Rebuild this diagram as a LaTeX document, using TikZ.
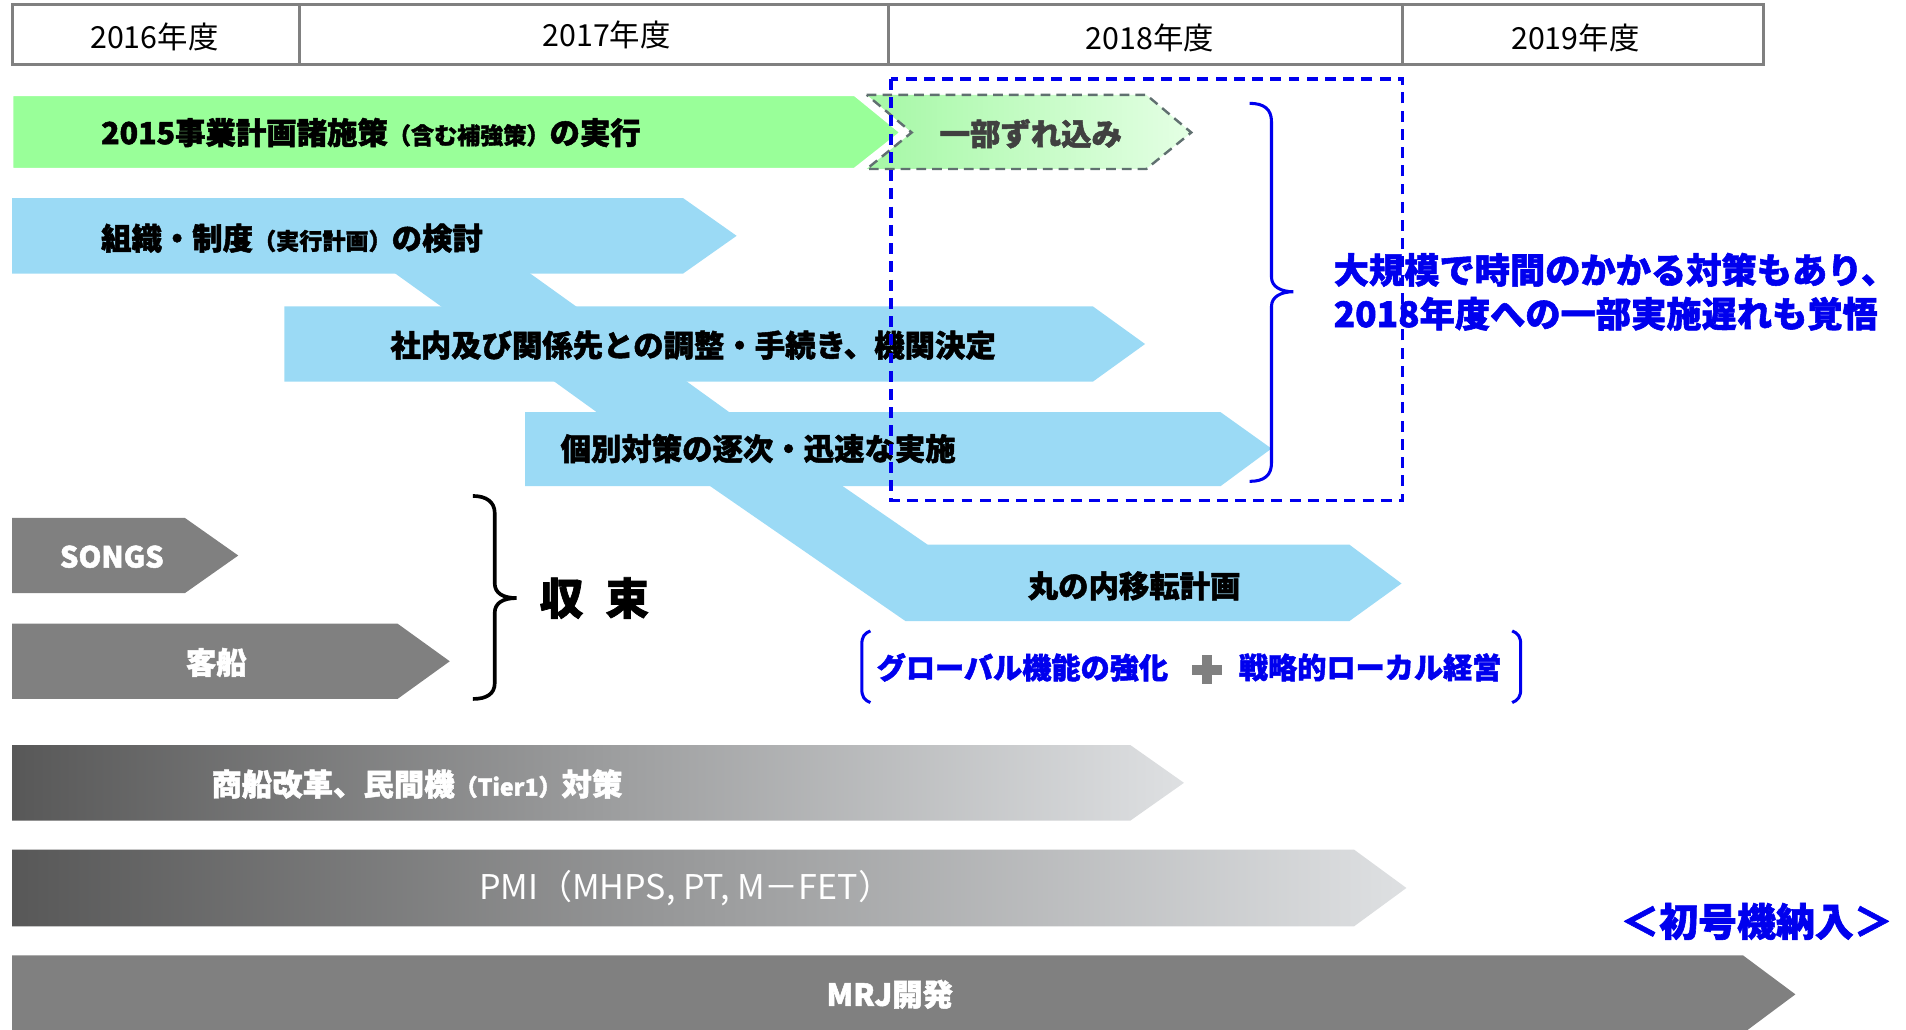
\documentclass[tikz,border=0pt]{standalone}
\usepackage{fontspec}
\setmainfont{Noto Sans CJK JP}[BoldFeatures={FakeBold=1.6}]
\definecolor{lblue}{RGB}{155,218,245}
\definecolor{lgreen}{RGB}{153,255,153}
\definecolor{cgreenA}{RGB}{165,248,165}
\definecolor{cgreenB}{RGB}{228,255,228}
\definecolor{mgray}{RGB}{128,128,128}
\definecolor{dashgray}{RGB}{96,112,112}
\definecolor{dtext}{RGB}{64,64,64}
\definecolor{myblue}{RGB}{0,0,238}
\definecolor{gA}{RGB}{88,88,88}
\definecolor{gB}{RGB}{118,118,118}
\definecolor{gC}{RGB}{222,224,226}
\newcommand\fsz[2]{\fontsize{#1}{#2}\selectfont}
\begin{document}
\begin{tikzpicture}[x=1pt,y=-1pt,
  hdrtext/.style={font=\fsz{25}{30}, text=black, inner sep=0},
  bartext/.style={font=\fsz{25}{30}\bfseries, text=black, inner sep=0},
  whitetext/.style={font=\fsz{25}{30}\bfseries, text=white, inner sep=0},
  bluetext/.style={font=\fsz{29}{36}\bfseries, text=myblue, inner sep=0},
  hdrline/.style={draw=mgray, line width=2.5},
  bluebrace/.style={draw=myblue, line width=2.5},
  gshade/.style={left color=gA, middle color=gB, right color=gC}]
\useasboundingbox (0,0) rectangle (1568,847);
\clip (0,0) rectangle (1568,847);
% header
\draw[hdrline, fill=white] (10,4) rectangle (1451,53);
\draw[hdrline] (246,4) -- (246,53);
\draw[hdrline] (731,4) -- (731,53);
\draw[hdrline] (1154,4) -- (1154,53);
\node[hdrtext] (y2016) at (127,30) {2016年度};
\node[hdrtext] (y2017) at (499,29) {2017年度};
\node[hdrtext] (y2018) at (946,31) {2018年度};
\node[hdrtext] (y2019) at (1296,31) {2019年度};
% green chevron (delay)
\shade[left color=cgreenA, right color=cgreenB] (713,78) -- (943,78) -- (980,109) -- (943,139) -- (713,139) -- (750,109) -- cycle;
\draw[dashgray, line width=2, dash pattern=on 8pt off 5pt] (713,78) -- (943,78) -- (980,109) -- (943,139) -- (713,139) -- (750,109) -- cycle;
% green arrow
\filldraw[fill=lgreen, draw=white, line width=2] (10,78) -- (703,78) -- (741,109) -- (703,139) -- (10,139) -- cycle;
% light blue flow
\fill[lblue] (10,163) -- (562,163) -- (606,194) -- (562,225) -- (10,225) -- cycle;
\fill[lblue] (321,222) -- (432,222) -- (478,255) -- (367,255) -- cycle;
\fill[lblue] (234,252) -- (899,252) -- (942,283) -- (899,314) -- (234,314) -- cycle;
\fill[lblue] (452,311) -- (561,311) -- (604,342) -- (495,342) -- cycle;
\fill[lblue] (432,339) -- (1004,339) -- (1046,369) -- (1004,400) -- (432,400) -- cycle;
\fill[lblue] (580,397) -- (689,397) -- (763,448) -- (1110,448) -- (1153,480) -- (1110,511) -- (745,511) -- cycle;
% gray arrows
\fill[mgray] (10,426) -- (152,426) -- (196,457) -- (152,488) -- (10,488) -- cycle;
\fill[mgray] (10,513) -- (327,513) -- (370,544) -- (327,575) -- (10,575) -- cycle;
\shade[gshade] (10,613) -- (930,613) -- (974,644) -- (930,675) -- (10,675) -- cycle;
\shade[gshade] (10,699) -- (1114,699) -- (1157,730.5) -- (1114,762) -- (10,762) -- cycle;
\fill[mgray] (10,786) -- (1434,786) -- (1477,818) -- (1434,850) -- (10,850) -- cycle;
% braces
\draw[bluebrace] (1028,85) .. controls (1040,85) and (1046,90) .. (1046,100) -- (1046,228) .. controls (1046,236) and (1054,240) .. (1064,240) .. controls (1054,240) and (1046,244) .. (1046,252) -- (1046,381) .. controls (1046,391) and (1040,396) .. (1028,396);
\draw[line width=3] (389,408) .. controls (400,408) and (407,413) .. (407,422) -- (407,480) .. controls (407,488) and (414,492) .. (425,492) .. controls (414,492) and (407,496) .. (407,504) -- (407,562) .. controls (407,571) and (400,575) .. (389,575);
\draw[bluebrace] (716,519) .. controls (711,521) and (709,524) .. (709,530) -- (709,567) .. controls (709,573) and (711,576) .. (716,578);
\draw[bluebrace] (1244,519) .. controls (1249,521) and (1251,524) .. (1251,530) -- (1251,567) .. controls (1251,573) and (1249,576) .. (1244,578);
\fill[mgray] (989,539) rectangle (997,563);
\fill[mgray] (981,547) rectangle (1005,555);
% texts
\node[bartext, anchor=west] (t2015) at (83,109) {2015事業計画諸施策{\fsz{19}{22}（含む補強策）}の実行};
\node[bartext, text=dtext] (tzure) at (848,110) {一部ずれ込み};
\node[bartext, anchor=west] (tsoshiki) at (83,196) {組織・制度{\fsz{19}{22}（実行計画）}の検討};
\node[bartext, anchor=west] (tchosei) at (321,284) {社内及び関係先との調整・手続き、機関決定};
\node[bartext, anchor=west] (tkobetsu) at (461,369) {個別対策の逐次・迅速な実施};
\node[bartext] (tmaru) at (933,482) {丸の内移転計画};
\node[bluetext, anchor=west, align=left] (tbig) at (1097,240) {大規模で時間のかかる対策もあり、\\2018年度への一部実施遅れも覚悟};
\node[whitetext, font=\fsz{24}{28}\bfseries] (tsongs) at (92,458) {SONGS};
\node[whitetext] (tkyaku) at (178,545) {客船};
\node[bartext, font=\fsz{36}{40}\bfseries] (tshusoku) at (489,492) {収\hspace{18pt}束};
\node[bluetext, font=\fsz{24}{28}\bfseries, anchor=west] (tglobal) at (721,549) {グローバル機能の強化};
\node[bluetext, font=\fsz{24}{28}\bfseries, anchor=west] (tlocal) at (1019,549) {戦略的ローカル経営};
\node[whitetext] (tshosen) at (343,645) {商船改革、民間機{\fsz{19}{22}（Tier1）}対策};
\node[whitetext, font=\fsz{28}{32}] (tpmi) at (564,731) {PMI（MHPS, PT, M－FET）};
\node[whitetext] (tmrj) at (732,818) {MRJ開発};
\node[bluetext, font=\fsz{32}{36}\bfseries] (tfirst) at (1445,758) {＜初号機納入＞};
% blue dashed frame
\draw[myblue, line width=2.5, dash pattern=on 9pt off 6pt] (733,65) rectangle (1154,412);
\end{tikzpicture}
\end{document}
